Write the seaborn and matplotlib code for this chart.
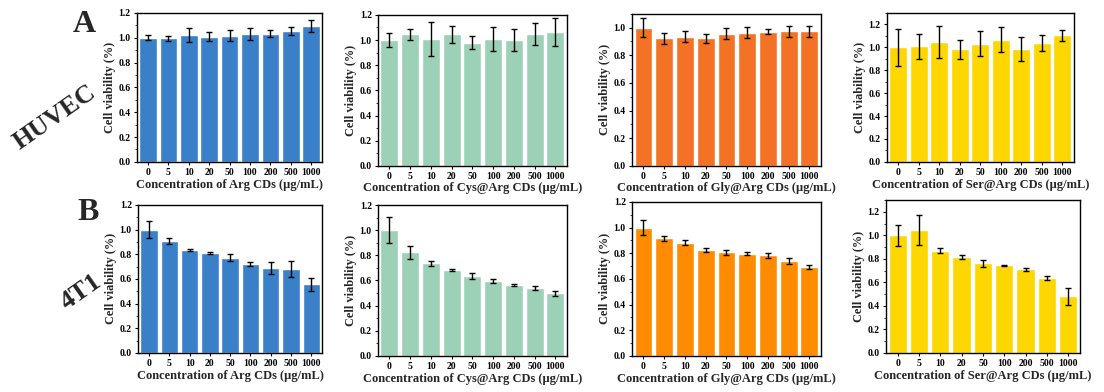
import matplotlib
matplotlib.use("Agg")
import matplotlib.pyplot as plt
from matplotlib.ticker import MultipleLocator
import pandas as pd
import seaborn as sns

sns.set_theme(style="ticks")
plt.rcParams["font.family"] = ["Liberation Serif", "DejaVu Serif"]
plt.rcParams["font.weight"] = "bold"
plt.rcParams["axes.labelweight"] = "bold"

# ── DATA ─────────────────────────────────────────────────────────────────────
conc = ["0", "5", "10", "20", "50", "100", "200", "500", "1000"]

huvec_arg = [1.00, 0.995, 1.022, 1.010, 1.018, 1.033, 1.033, 1.056, 1.094]
huvec_arg_sd = [0.02, 0.02, 0.057, 0.035, 0.045, 0.047, 0.028, 0.03, 0.05]
huvec_cys = [1.00, 1.045, 1.005, 1.045, 0.98, 1.01, 1.00, 1.045, 1.066]
huvec_cys_sd = [0.053, 0.044, 0.135, 0.07, 0.053, 0.097, 0.086, 0.088, 0.11]
huvec_gly = [1.00, 0.922, 0.932, 0.922, 0.954, 0.964, 0.968, 0.973, 0.973]
huvec_gly_sd = [0.07, 0.04, 0.04, 0.032, 0.04, 0.04, 0.018, 0.038, 0.04]
huvec_ser = [1.00, 1.009, 1.05, 0.983, 1.03, 1.066, 0.988, 1.038, 1.104]
huvec_ser_sd = [0.159, 0.11, 0.14, 0.084, 0.11, 0.108, 0.104, 0.07, 0.05]

t41_arg = [1.00, 0.908, 0.832, 0.810, 0.772, 0.718, 0.688, 0.678, 0.555]
t41_arg_sd = [0.065, 0.026, 0.01, 0.011, 0.027, 0.016, 0.049, 0.066, 0.053]
t41_cys = [1.00, 0.824, 0.737, 0.684, 0.638, 0.598, 0.564, 0.537, 0.498]
t41_cys_sd = [0.104, 0.053, 0.02, 0.011, 0.024, 0.016, 0.005, 0.016, 0.019]
t41_gly = [1.00, 0.916, 0.882, 0.827, 0.806, 0.796, 0.783, 0.741, 0.696]
t41_gly_sd = [0.055, 0.022, 0.02, 0.016, 0.021, 0.01, 0.018, 0.021, 0.016]
t41_ser = [1.00, 1.045, 0.87, 0.813, 0.762, 0.745, 0.711, 0.637, 0.482]
t41_ser_sd = [0.088, 0.13, 0.02, 0.017, 0.027, 0.006, 0.013, 0.02, 0.074]

BLUE = "#3a80c9"
GREEN = "#9dd1b7"
ORANGE_A = "#f47225"
ORANGE_B = "#ff8c00"
YELLOW = "#ffd700"

# (values, sd, colour, label material, ymax, axes rect)
panels = [
    (huvec_arg, huvec_arg_sd, BLUE, "Arg", 1.2, [0.124, 0.587, 0.168, 0.380]),
    (huvec_cys, huvec_cys_sd, GREEN, "Cys@Arg", 1.2, [0.3424, 0.577, 0.171, 0.385]),
    (huvec_gly, huvec_gly_sd, ORANGE_A, "Gly@Arg", 1.1, [0.5725, 0.577, 0.171, 0.388]),
    (huvec_ser, huvec_ser_sd, YELLOW, "Ser@Arg", 1.3, [0.8034, 0.587, 0.169, 0.380]),
    (t41_arg, t41_arg_sd, BLUE, "Arg", 1.2, [0.125, 0.0995, 0.167, 0.378]),
    (t41_cys, t41_cys_sd, GREEN, "Cys@Arg", 1.2, [0.3424, 0.092, 0.171, 0.385]),
    (t41_gly, t41_gly_sd, ORANGE_B, "Gly@Arg", 1.2, [0.5725, 0.092, 0.171, 0.393]),
    (t41_ser, t41_ser_sd, YELLOW, "Ser@Arg", 1.3, [0.8025, 0.0995, 0.1757, 0.390]),
]

fig = plt.figure(figsize=(11.04, 3.92), dpi=100)

for vals, sd, color, name, ymax, rect in panels:
    ax = fig.add_axes(rect)
    df = pd.DataFrame({"conc": conc, "viab": vals})
    sns.barplot(data=df, x="conc", y="viab", color=color, saturation=1,
                width=0.86, errorbar=None, ax=ax)
    ax.errorbar(range(len(conc)), vals, yerr=sd, fmt="none", ecolor="black",
                elinewidth=1.0, capsize=2.2, capthick=1.0)
    ax.set_xlim(-0.55, len(conc) - 0.45)
    ax.set_ylim(0, ymax)
    ax.yaxis.set_major_locator(MultipleLocator(0.2))
    ax.yaxis.set_minor_locator(MultipleLocator(0.1))
    ax.set_xlabel(f"Concentration of {name} CDs (\u03bcg/mL)", fontsize=9,
                  fontweight="bold", labelpad=1)
    ax.set_ylabel("Cell viability (%)", fontsize=8.8, fontweight="bold", labelpad=2)
    ax.tick_params(axis="both", which="major", labelsize=7, length=2.5,
                   width=0.8, direction="out", pad=2, colors="black")
    ax.tick_params(axis="y", which="minor", length=1.5, width=0.6)
    ax.set_yticklabels([f"{t:.1f}" for t in ax.get_yticks()])
    for lab in ax.get_xticklabels() + ax.get_yticklabels():
        lab.set_fontweight("bold")
    for sp in ax.spines.values():
        sp.set_visible(True)
        sp.set_linewidth(1.0)
        sp.set_color("black")

fig.text(84 / 1104, 1 - 25 / 392, "A", fontsize=23, fontweight="bold",
         ha="center", va="center")
fig.text(88 / 1104, 1 - 213 / 392, "B", fontsize=23, fontweight="bold",
         ha="center", va="center")
fig.text(55 / 1104, 1 - 117 / 392, "HUVEC", fontsize=19, fontweight="bold",
         ha="center", va="center", rotation=35)
fig.text(81 / 1104, 1 - 292 / 392, "4T1", fontsize=19, fontweight="bold",
         ha="center", va="center", rotation=35)

fig.savefig("out.png", dpi=100)
